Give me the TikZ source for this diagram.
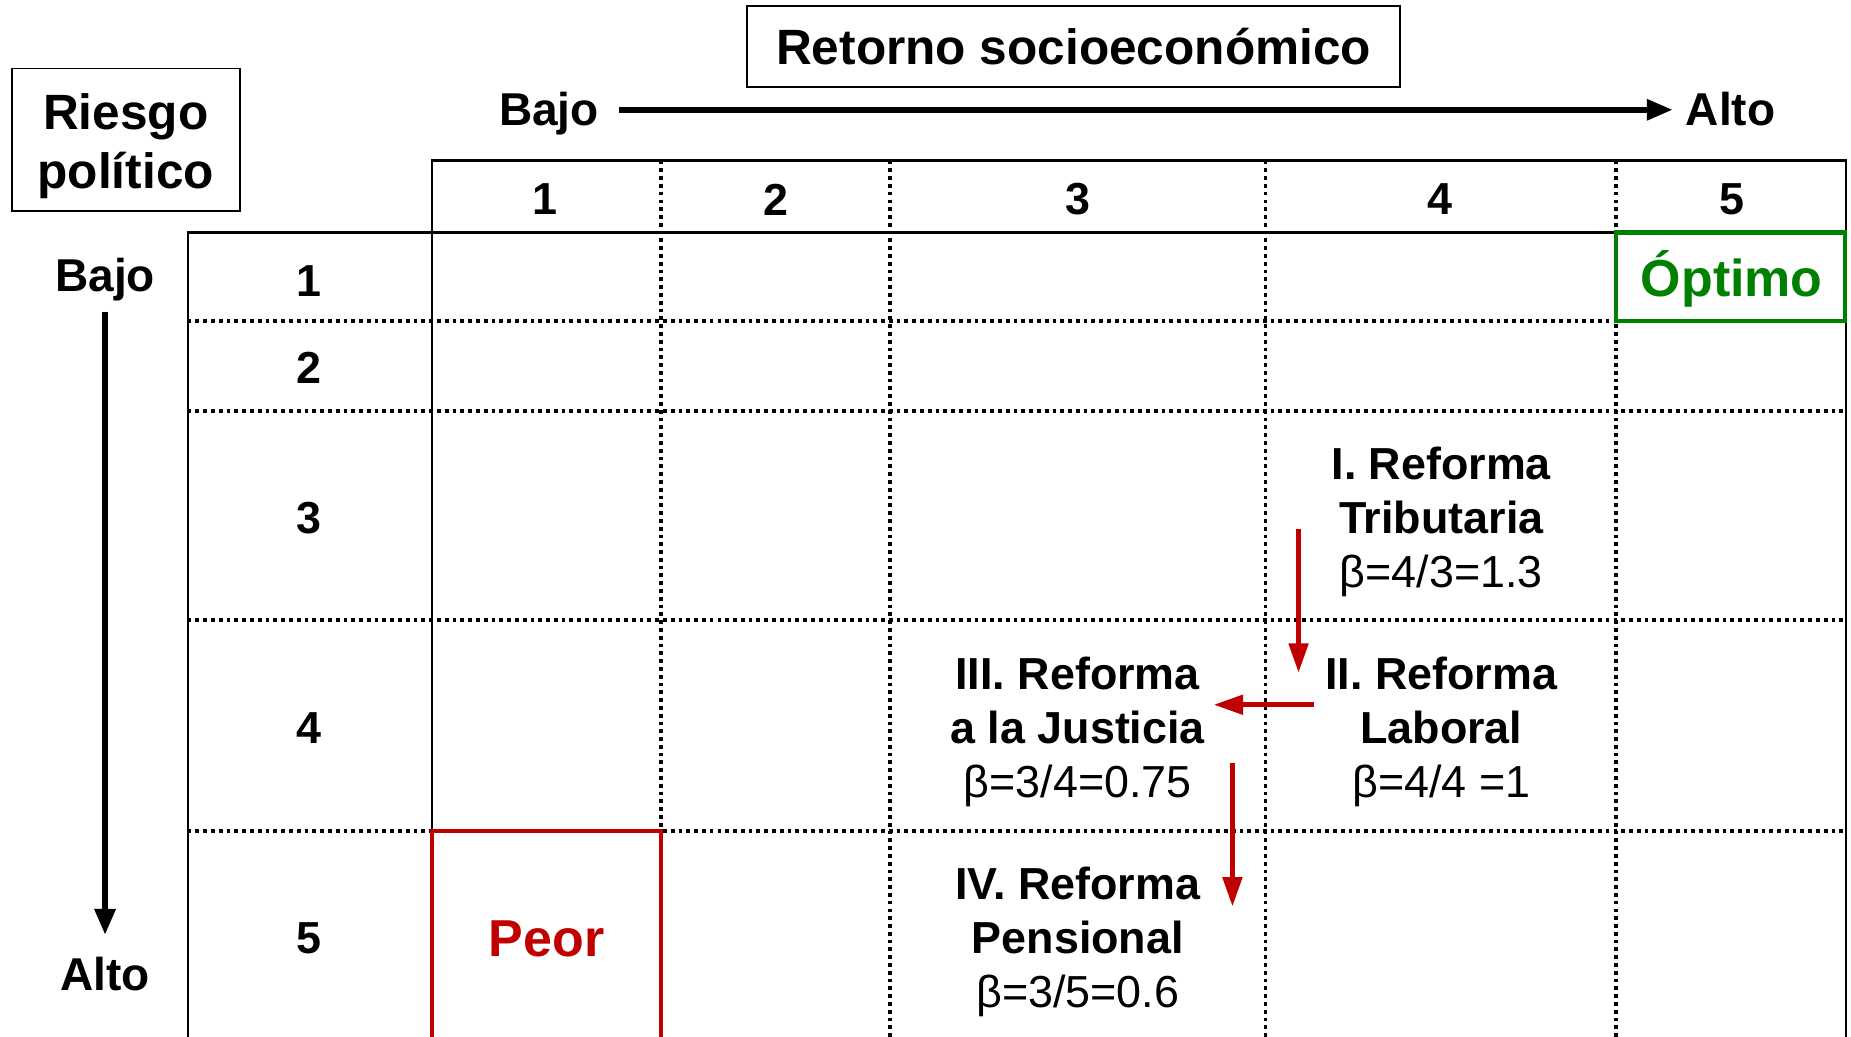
\documentclass[tikz,border=0pt]{standalone}
\usepackage{fontspec}
\setmainfont{Liberation Sans}
\usetikzlibrary{arrows.meta}
\definecolor{peorred}{RGB}{192,0,0}
\definecolor{optgreen}{RGB}{0,128,0}
\tikzset{
  solidline/.style={line width=2pt, black},
  dotline/.style={line width=3.2pt, black, dash pattern=on 3.2pt off 3.4pt},
  titlebox/.style={draw, line width=1.5pt, align=center, font=\bfseries\fontsize{42}{50}\selectfont},
  titletext/.style={align=center, font=\bfseries\fontsize{42}{50}\selectfont},
  axislbl/.style={font=\bfseries\fontsize{39}{46}\selectfont},
  numlbl/.style={font=\bfseries\fontsize{38}{46}\selectfont},
  reform/.style={align=center, font=\fontsize{38}{46}\selectfont},
  bigarrow/.style={line width=5pt, -{Triangle[length=22pt,width=17pt]}},
  redarrow/.style={line width=4.5pt, peorred, -{Triangle[length=25pt,width=16pt]}},
}
\begin{document}
\begin{tikzpicture}[x=1pt,y=-1pt]
\clip (0,0) rectangle (1568,878);
\fill[white] (0,0) rectangle (1568,878);

% dotted grid lines
\foreach \yy in {272,348,525,704} \draw[dotline] (159,\yy) -- (1564,\yy);
\foreach \xx in {560,754,1072,1369} \draw[dotline] (\xx,136) -- (\xx,890);

% solid lines
\draw[solidline] (366,890) -- (366,136) -- (1564,136) -- (1564,890);
\draw[solidline] (159,890) -- (159,197) -- (1564,197);

% highlighted boxes
\draw[line width=3.5pt, optgreen] (1369,197) rectangle (1563,272);
\node[text=optgreen, font=\bfseries\fontsize{44}{50}\selectfont] (optimo) at (1467,236) {Óptimo};
\draw[line width=3.5pt, peorred] (366,704) rectangle (560,900);
\node[text=peorred, font=\bfseries\fontsize{44}{50}\selectfont] (peor) at (463,795) {Peor};

% title boxes
\node[draw, line width=1.5pt, minimum width=193pt, minimum height=121pt, inner sep=0pt] (riesgobox) at (106.5,118.5) {};
\node[titletext] (riesgo) at (106.5,123.5) {Riesgo\\político};
\node[titlebox, minimum width=553pt, minimum height=69pt, inner sep=0pt] (retorno) at (909.5,39.5) {Retorno socioeconómico};

% top axis
\node[axislbl, anchor=base] (bajoX) at (465,106) {Bajo};
\node[axislbl, anchor=base] (altoX) at (1466,106) {Alto};
\coordinate (tx0) at (524,93);
\coordinate (tx1) at (1417,93);
\draw[bigarrow] (tx0) -- (tx1);

% left axis
\node[axislbl] (bajoY) at (89,237) {Bajo};
\node[axislbl] (altoY) at (89,825) {Alto};
\coordinate (ly0) at (89,264);
\coordinate (ly1) at (89,792);
\draw[bigarrow] (ly0) -- (ly1);

% column numbers
\node[numlbl] (c1) at (462,169) {1};
\node[numlbl] (c2) at (657,169) {2};
\node[numlbl] (c3) at (913,169) {3};
\node[numlbl] (c4) at (1220,169) {4};
\node[numlbl] (c5) at (1467,169) {5};

% row numbers
\node[numlbl] (r1) at (262,238) {1};
\node[numlbl] (r2) at (262,312) {2};
\node[numlbl] (r3) at (262,439) {3};
\node[numlbl] (r4) at (262,617) {4};
\node[numlbl] (r5) at (262,795) {5};

% reforms
\node[reform] (ref1) at (1221,442) {\textbf{I. Reforma}\\\textbf{Tributaria}\\β=4/3=1.3};
\node[reform] (ref2) at (1221,620) {\textbf{II. Reforma}\\\textbf{Laboral}\\β=4/4 =1};
\node[reform] (ref3) at (913,620) {\textbf{III. Reforma}\\\textbf{a la Justicia}\\β=3/4=0.75};
\node[reform] (ref4) at (913,798) {\textbf{IV. Reforma}\\\textbf{Pensional}\\β=3/5=0.6};

% red arrows
\coordinate (a1s) at (1100,448);
\coordinate (a1e) at (1100,570);
\draw[redarrow] (a1s) -- (a1e);
\coordinate (a2s) at (1113,597);
\coordinate (a2e) at (1028,597);
\draw[redarrow] (a2s) -- (a2e);
\coordinate (a3s) at (1044,646);
\coordinate (a3e) at (1044,768);
\draw[redarrow] (a3s) -- (a3e);
\end{tikzpicture}
\end{document}
